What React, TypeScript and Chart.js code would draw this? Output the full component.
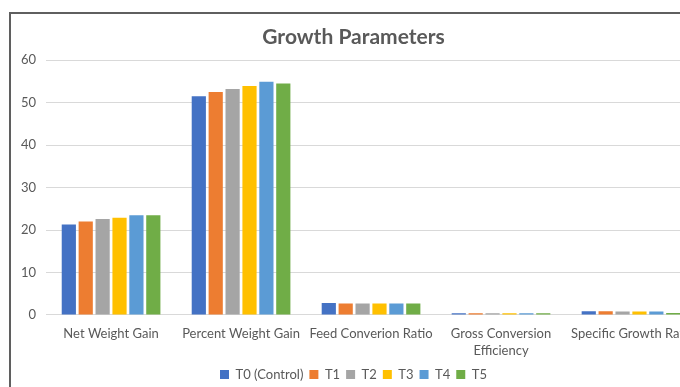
import React, { useEffect, useRef } from "react";
import { Chart, registerables } from "chart.js";

Chart.register(...registerables);

const categories: (string | string[])[] = [
  "Net Weight Gain",
  "Percent Weight Gain",
  "Feed Converion Ratio",
  ["Gross Conversion", "Efficiency"],
  "Specific Growth Rate",
];

const seriesNames = ["T0 (Control)", "T1", "T2", "T3", "T4", "T5"];
const seriesColors = ["#4472C4", "#ED7D31", "#A5A5A5", "#FFC000", "#5B9BD5", "#70AD47"];

const t0 = [21.3, 51.5, 2.8, 0.36, 0.85];
const t1 = [22.0, 52.5, 2.7, 0.36, 0.85];
const t2 = [22.6, 53.2, 2.7, 0.36, 0.8];
const t3 = [22.9, 53.9, 2.7, 0.36, 0.8];
const t4 = [23.5, 54.9, 2.7, 0.36, 0.8];
const t5 = [23.5, 54.5, 2.7, 0.36, 0.45];

const seriesValues = [t0, t1, t2, t3, t4, t5];

const FONT = "Lato, 'Open Sans', sans-serif";
const TEXT = "#595959";

export default function App() {
  const ref = useRef<HTMLCanvasElement | null>(null);

  useEffect(() => {
    if (!ref.current) return;
    const chart = new Chart(ref.current, {
      type: "bar",
      data: {
        labels: categories,
        datasets: seriesNames.map((name, i) => ({
          label: name,
          data: seriesValues[i],
          backgroundColor: seriesColors[i],
          borderWidth: 0,
          categoryPercentage: 0.78,
          barPercentage: 0.84,
        })),
      },
      options: {
        animation: false,
        responsive: true,
        maintainAspectRatio: false,
        layout: { padding: { left: 0, right: 5, top: 0, bottom: 8 } },
        plugins: {
          title: {
            display: true,
            text: "Growth Parameters",
            color: TEXT,
            font: { family: FONT, size: 21, weight: "bold" },
            padding: { top: 11, bottom: 10 },
          },
          legend: {
            position: "bottom",
            labels: {
              color: TEXT,
              font: { family: FONT, size: 13 },
              boxWidth: 9,
              boxHeight: 9,
              padding: 6,
            },
          },
          tooltip: { enabled: false },
        },
        scales: {
          x: {
            grid: { display: false },
            border: { display: true, color: "#d9d9d9" },
            ticks: {
              color: TEXT,
              font: { family: FONT, size: 13, lineHeight: 1.35 },
              maxRotation: 0,
              autoSkip: false,
              padding: 2,
            },
          },
          y: {
            min: 0,
            max: 60,
            grid: { color: "#d9d9d9", drawTicks: false },
            border: { display: false },
            ticks: {
              stepSize: 10,
              color: TEXT,
              font: { family: FONT, size: 13 },
              padding: 10,
            },
          },
        },
      },
    });
    return () => chart.destroy();
  }, []);

  return (
    <div
      style={{
        position: "fixed",
        left: 0,
        top: 0,
        width: 680,
        height: 387,
        overflow: "hidden",
        background: "#fff",
      }}
    >
      <div
        style={{
          position: "absolute",
          left: 9,
          top: 12,
          width: 692,
          height: 392,
          borderLeft: "2px solid #5f5f5f",
          borderTop: "2px solid #5f5f5f",
          background: "#fff",
        }}
      >
        <div style={{ position: "relative", width: 690, height: 385 }}>
          <canvas ref={ref} />
        </div>
      </div>
    </div>
  );
}
